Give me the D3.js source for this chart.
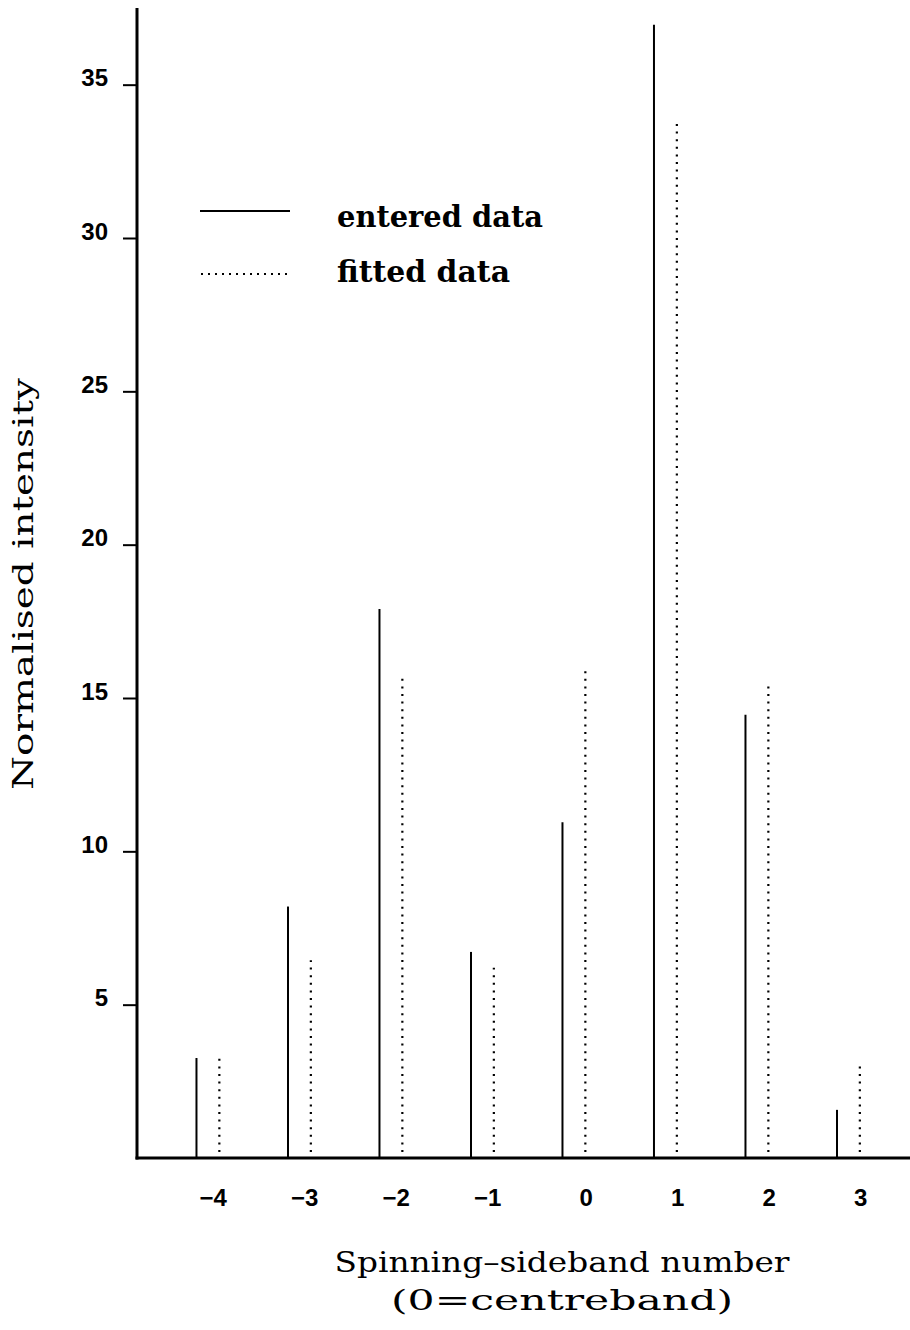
<!DOCTYPE html>
<html>
<head>
<meta charset="utf-8">
<script src="https://cdn.jsdelivr.net/npm/d3@7"></script>
<style>
  body { margin: 0; background: #fff; }
</style>
</head>
<body>
<div id="chart"></div>
<script>
const sidebands = [-4, -3, -2, -1, 0, 1, 2, 3];
const entered = [3.26, 8.2, 17.9, 6.72, 10.95, 36.95, 14.45, 1.57];
const fitted = [3.26, 6.45, 15.65, 6.2, 15.9, 33.9, 15.45, 3.1];
const yTicks = [5, 10, 15, 20, 25, 30, 35];
const legendLabels = ['entered data', 'fitted data'];

const width = 910;
const height = 1330;
const x0 = 137;       // y axis position
const y0 = 1158;      // baseline

const tickFont = '"Liberation Sans", Arial, sans-serif';
const labelFont = '"DejaVu Serif", serif';

const svg = d3.select('#chart')
  .append('svg')
  .attr('width', width)
  .attr('height', height);

const xScale = d3.scaleLinear()
  .domain([-4.9, 3.6])
  .range([x0, x0 + 8.5 * 91.5]);

const yScale = d3.scaleLinear()
  .domain([0, 37.5])
  .range([y0, 8]);

// y axis
const yAxis = svg.append('g')
  .attr('transform', `translate(${x0},0)`)
  .call(d3.axisLeft(yScale).tickValues(yTicks).tickSize(14).tickPadding(15));
yAxis.select('.domain').remove();
yAxis.selectAll('.tick line').attr('stroke', '#000').attr('stroke-width', 2);
yAxis.selectAll('.tick text')
  .attr('dy', '0.05em')
  .style('font-family', tickFont)
  .style('font-weight', 'bold')
  .style('font-size', '24px')
  .attr('fill', '#000');

svg.append('line')
  .attr('x1', x0).attr('x2', x0)
  .attr('y1', yScale(37.5)).attr('y2', y0 + 1.5)
  .attr('stroke', '#000')
  .attr('stroke-width', 3);

// x axis
const xAxis = svg.append('g')
  .attr('transform', `translate(0,${y0})`)
  .call(d3.axisBottom(xScale)
    .tickValues(sidebands)
    .tickSize(0)
    .tickPadding(31)
    .tickFormat(d => d < 0 ? '\u2212' + Math.abs(d) : d));
xAxis.select('.domain').remove();
xAxis.selectAll('.tick text')
  .attr('text-anchor', 'end')
  .attr('dx', 7)
  .style('font-family', tickFont)
  .style('font-weight', 'bold')
  .style('font-size', '24px')
  .attr('fill', '#000');

svg.append('line')
  .attr('x1', x0 - 1.5).attr('x2', width)
  .attr('y1', y0).attr('y2', y0)
  .attr('stroke', '#000')
  .attr('stroke-width', 3);

// entered data (solid, shifted left)
svg.append('g')
  .selectAll('line')
  .data(sidebands)
  .join('line')
  .attr('x1', d => xScale(d - 0.25))
  .attr('x2', d => xScale(d - 0.25))
  .attr('y1', y0)
  .attr('y2', (d, i) => yScale(entered[i]))
  .attr('stroke', '#000')
  .attr('stroke-width', 2);

// fitted data (dotted)
svg.append('g')
  .selectAll('line')
  .data(sidebands)
  .join('line')
  .attr('x1', d => xScale(d))
  .attr('x2', d => xScale(d))
  .attr('y1', y0 - 6)
  .attr('y2', (d, i) => yScale(fitted[i]))
  .attr('stroke', '#000')
  .attr('stroke-width', 2.2)
  .attr('stroke-dasharray', '2 5.6');

// legend
const legend = svg.append('g');
legend.append('line')
  .attr('x1', 200).attr('x2', 290)
  .attr('y1', 211).attr('y2', 211)
  .attr('stroke', '#000')
  .attr('stroke-width', 2);
legend.append('line')
  .attr('x1', 201).attr('x2', 290)
  .attr('y1', 274).attr('y2', 274)
  .attr('stroke', '#000')
  .attr('stroke-width', 2)
  .attr('stroke-dasharray', '2 5');

legend.selectAll('text')
  .data(legendLabels)
  .join('text')
  .attr('x', 337)
  .attr('y', (d, i) => 227 + i * 55)
  .attr('textLength', (d, i) => i === 0 ? 206 : 173)
  .attr('lengthAdjust', 'spacingAndGlyphs')
  .style('font-family', labelFont)
  .style('font-weight', 'bold')
  .style('font-size', '29px')
  .text(d => d);

// axis titles
svg.append('text')
  .attr('transform', 'translate(33,584) rotate(-90)')
  .attr('text-anchor', 'middle')
  .attr('textLength', 412)
  .attr('lengthAdjust', 'spacingAndGlyphs')
  .style('font-family', labelFont)
  .style('font-size', '28px')
  .text('Normalised intensity');

svg.append('text')
  .attr('x', 562)
  .attr('y', 1272)
  .attr('text-anchor', 'middle')
  .attr('textLength', 455)
  .attr('lengthAdjust', 'spacingAndGlyphs')
  .style('font-family', labelFont)
  .style('font-size', '28px')
  .text('Spinning\u2013sideband number');

svg.append('text')
  .attr('x', 562)
  .attr('y', 1310)
  .attr('text-anchor', 'middle')
  .attr('textLength', 342)
  .attr('lengthAdjust', 'spacingAndGlyphs')
  .style('font-family', labelFont)
  .style('font-size', '28px')
  .text('(0=centreband)');
</script>
</body>
</html>
